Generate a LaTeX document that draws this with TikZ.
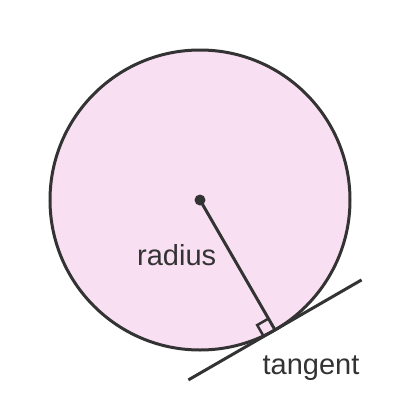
\documentclass[tikz,border=0pt]{standalone}
\usepackage{fontspec}
\setmainfont{Liberation Sans}
\definecolor{ink}{HTML}{333333}
\definecolor{pinkfill}{HTML}{F9DFF2}
\begin{document}
\begin{tikzpicture}[x=1pt,y=-1pt,
  stroke/.style={draw=ink,line width=3pt},
  lbl/.style={text=ink,font=\fontsize{29}{32}\selectfont,inner sep=0pt,anchor=base}]
\useasboundingbox (0,0) rectangle (400,400);
\fill[white] (0,0) rectangle (400,400);
\coordinate (O) at (200,200);
\coordinate (T) at (275,329.9);
\coordinate (L) at (188.4,379.9);
\coordinate (R) at (361.6,279.9);
\coordinate (A) at (268.5,318.6);
\coordinate (B) at (257.2,325.1);
\coordinate (C) at (263.7,336.4);
\draw[stroke,fill=pinkfill] (O) circle[radius=150];
\draw[stroke] (O) -- (T);
\draw[stroke] (L) -- (R);
\draw[ink,line width=2.5pt] (A) -- (B) -- (C);
\fill[ink] (O) circle[radius=5.5];
\node[lbl] (rad) at (176.7,265) {radius};
\node[lbl] (tan) at (311,374) {tangent};
\end{tikzpicture}
\end{document}
